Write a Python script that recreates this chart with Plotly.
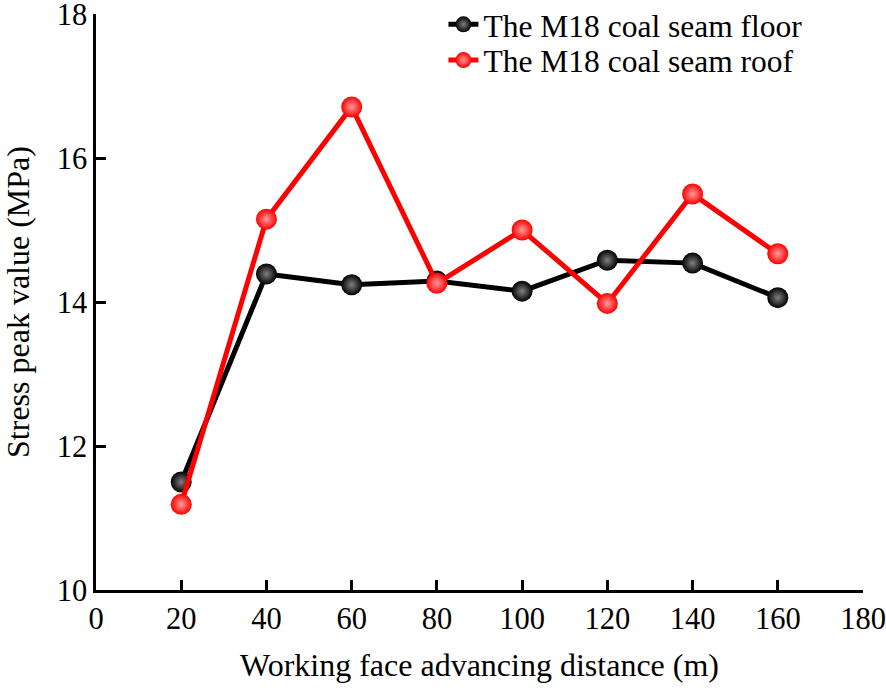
import plotly.graph_objects as go

distance = [20, 40, 60, 80, 100, 120, 140, 160]
floor_stress = [11.50, 14.39, 14.24, 14.29, 14.15, 14.58, 14.54, 14.06]
roof_stress = [11.19, 15.15, 16.71, 14.26, 15.00, 13.98, 15.50, 14.67]

FONT = "Liberation Serif, Times New Roman, serif"

fig = go.Figure()
fig.add_trace(go.Scatter(
    x=distance, y=floor_stress, mode="lines+markers",
    name="The M18 coal seam floor", legend="legend",
    line=dict(color="black", width=5),
    marker=dict(size=21, color="#000000",
                gradient=dict(type="radial", color="#808080")),
))
fig.add_trace(go.Scatter(
    x=distance, y=roof_stress, mode="lines+markers",
    name="The M18 coal seam roof", legend="legend2",
    line=dict(color="#ff0000", width=5),
    marker=dict(size=21, color="#ff0000",
                gradient=dict(type="radial", color="#ff9a9a")),
))

leg_common = dict(xanchor="left", yanchor="middle", bgcolor="rgba(0,0,0,0)",
                  font=dict(family=FONT, size=31.5), itemwidth=30)

fig.update_layout(
    width=886, height=691,
    margin=dict(l=96, r=23, t=14, b=101, autoexpand=False),
    plot_bgcolor="white", paper_bgcolor="white",
    font=dict(family=FONT, size=31, color="black"),
    showlegend=True,
    legend=dict(x=0.453, y=0.982, **leg_common),
    legend2=dict(x=0.453, y=0.920, **leg_common),
    xaxis=dict(range=[0, 180], tickvals=[0, 20, 40, 60, 80, 100, 120, 140, 160, 180],
               showline=True, linecolor="black", linewidth=2.5, mirror=False,
               ticks="inside", ticklen=10, tickwidth=2.5, tickcolor="black",
               showgrid=False, zeroline=False, automargin=False,
               ticklabeloverflow="allow",
               tickfont=dict(family=FONT, size=30.5),
               title=dict(text="Working face advancing distance (m)",
                          font=dict(family=FONT, size=32), standoff=19)),
    yaxis=dict(range=[10, 18], tickvals=[10, 12, 14, 16, 18],
               showline=True, linecolor="black", linewidth=2.5, mirror=False,
               ticks="inside", ticklen=10, tickwidth=2.5, tickcolor="black",
               showgrid=False, zeroline=False, automargin=False,
               ticklabeloverflow="allow",
               tickfont=dict(family=FONT, size=30.5),
               title=dict(text="Stress peak value (MPa)",
                          font=dict(family=FONT, size=32), standoff=33)),
)

fig.write_html(
    "out.html",
    config={"displayModeBar": False},
    post_script="document.body.style.margin='0';document.body.style.overflow='hidden';",
)
